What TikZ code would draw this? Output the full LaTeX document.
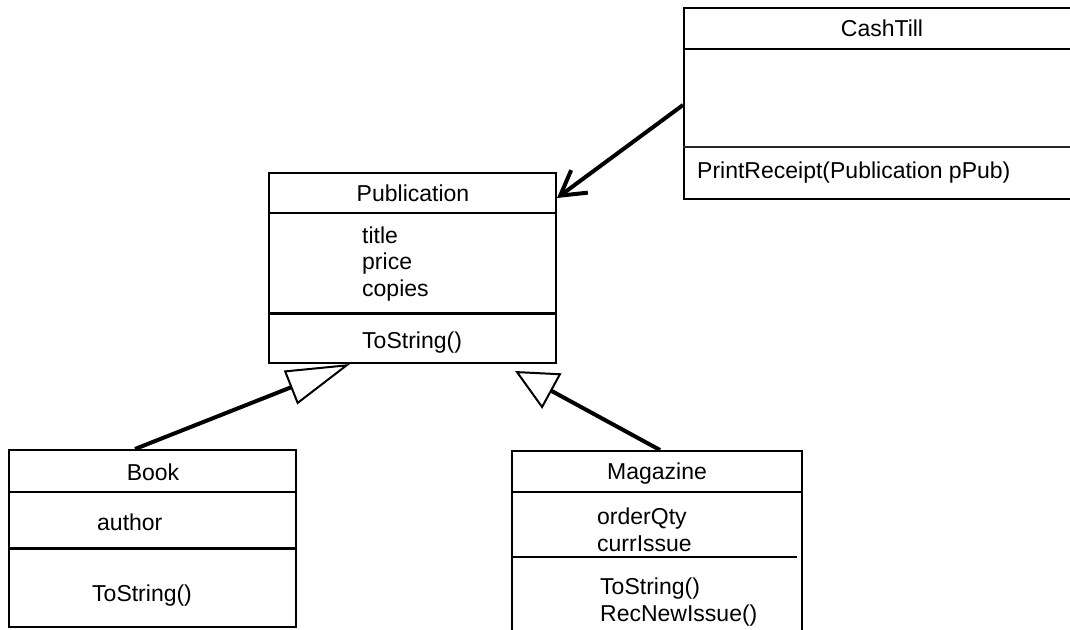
\documentclass[tikz,border=0pt]{standalone}
\usepackage{fontspec}
\setmainfont{Liberation Sans}
\usepackage{tikz}
\usetikzlibrary{arrows.meta,positioning,calc}

\tikzset{
  classbox/.style={draw, line width=2pt, inner sep=0pt},
  classname/.style={inner sep=0pt},
  member/.style={anchor=west, align=left, inner sep=0pt},
  sepline/.style={line width=2pt},
  septhick/.style={line width=3pt},
  usesarrow/.style={line width=4pt, -{Straight Barb[length=24pt,width=28pt]}},
  inherit/.style={line width=4pt},
}

\begin{document}
\begin{tikzpicture}[x=1pt, y=-1pt, font=\fontsize{23}{26.5}\selectfont]
    \useasboundingbox (0,0) rectangle (1070,629);
    \clip (0,0) rectangle (1070,629);
    % CashTill
    \node[classbox, minimum width=396pt, minimum height=191pt] (till) at (882,103.5) {};
    \node[classname] (tillname) at (882,28) {CashTill};
    \draw[sepline] (till.west |- 0,49) -- (till.east |- 0,49);
    \draw[sepline, black!85] (till.west |- 0,147) -- (till.east |- 0,147);
    \node[member] (tillops) at (697,173) {PrintReceipt(Publication pPub)};
    % Publication
    \node[classbox, minimum width=287pt, minimum height=190pt] (pub) at (412.5,268) {};
    \node[classname] (pubname) at (413,193) {Publication};
    \draw[sepline] (pub.west |- 0,213) -- (pub.east |- 0,213);
    \node[member] (pubattr) at (362,264) {title\\price\\copies};
    \draw[septhick] (pub.west |- 0,313) -- (pub.east |- 0,313);
    \node[member] (pubops) at (362,343) {ToString()};
    % Book
    \node[classbox, minimum width=287pt, minimum height=177pt] (book) at (152.5,538.5) {};
    \node[classname] (bookname) at (153,472) {Book};
    \draw[sepline] (book.west |- 0,492) -- (book.east |- 0,492);
    \node[member] (bookattr) at (97,522) {author};
    \draw[septhick] (book.west |- 0,548) -- (book.east |- 0,548);
    \node[member] (bookops) at (92,596) {ToString()};
    % Magazine
    \node[classbox, minimum width=290pt, minimum height=189pt] (mag) at (657,545.5) {};
    \node[classname] (magname) at (657,474) {Magazine};
    \draw[sepline] (mag.west |- 0,492) -- (mag.east |- 0,492);
    \node[member] (magattr) at (597,530) {orderQty\\currIssue};
    \draw[sepline] (mag.west |- 0,557) -- ([xshift=-6pt]mag.east |- 0,557);
    \node[member] (magops) at (600,602) {ToString()\\RecNewIssue()};
    % associations
    \draw[usesarrow] (till.west |- 0,105) -- ([yshift=-26pt]pub.north east);
    \draw[inherit, -{Triangle[open, length=64pt, width=36pt, line width=2pt]}]
      ([xshift=-17.5pt]book.north) -- ([xshift=-62.5pt]pub.south);
    \draw[inherit, -{Triangle[open, length=42pt, width=40pt, line width=2pt]}]
      ([xshift=3pt]mag.north) -- ([xshift=102.5pt, yshift=-7pt]pub.south);
\end{tikzpicture}
\end{document}
